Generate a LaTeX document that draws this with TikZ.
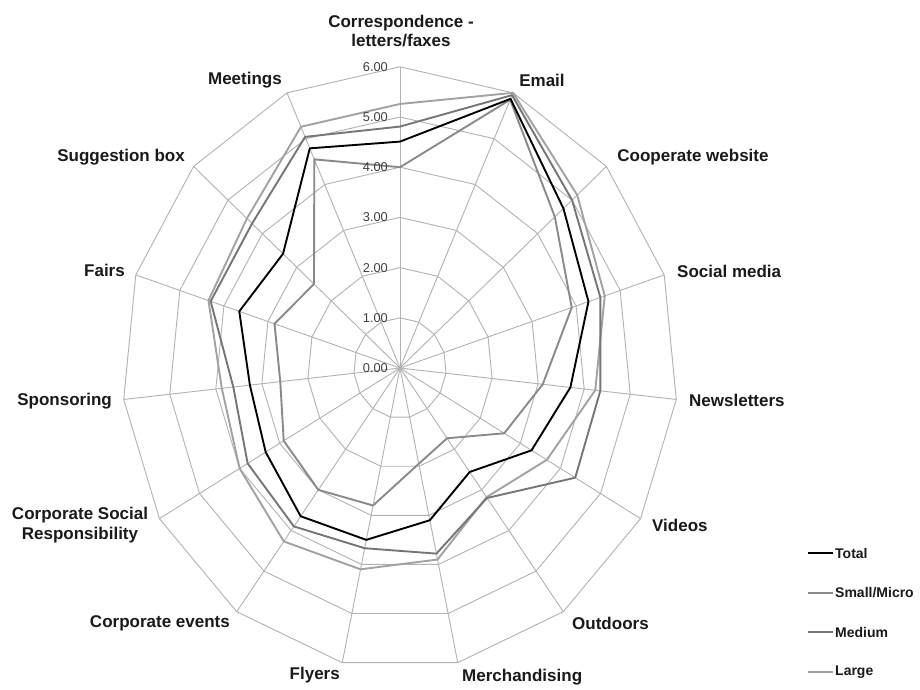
\documentclass[tikz,border=0pt]{standalone}
\usepackage{fontspec}
\setmainfont{Liberation Sans}
\definecolor{gridc}{HTML}{B2B2B2}
\definecolor{txtc}{HTML}{1A1A1A}
\definecolor{tickc}{HTML}{404040}
\definecolor{smallc}{HTML}{8A8A8A}
\definecolor{mediumc}{HTML}{767676}
\definecolor{largec}{HTML}{A2A2A2}
\newcommand\radarline[3]{%
  \foreach \v [count=\k from 0] in {#3} {\coordinate (#1-\k) at ({400+46.3*\v*sin(24*\k)},{368-50.2*\v*cos(24*\k)});}
  \draw[#2] (#1-0) \foreach \k in {1,...,14} { -- (#1-\k) } -- cycle;
}
\begin{document}
\begin{tikzpicture}[x=1pt,y=-1pt,
  gridline/.style={draw=gridc,line width=0.9pt,line join=round},
  axlabel/.style={font=\fontsize{17}{19.5}\selectfont\bfseries,text=txtc,inner sep=0pt,align=center},
  ticklabel/.style={font=\fontsize{12.8}{14}\selectfont,text=tickc,inner sep=0pt,anchor=east},
  legtext/.style={font=\fontsize{14}{16}\selectfont\bfseries,text=txtc,inner sep=0pt,anchor=west},
  totalline/.style={draw=black,line width=1.9pt,line join=round},
  smallline/.style={draw=smallc,line width=1.9pt,line join=round},
  mediumline/.style={draw=mediumc,line width=1.9pt,line join=round},
  largeline/.style={draw=largec,line width=1.9pt,line join=round}]
\useasboundingbox (0,0) rectangle (920,689);
\fill[white] (0,0) rectangle (920,689);
\coordinate (c) at (400,368);
% grid rings
\foreach \r in {1,...,6}{
  \draw[gridline] plot[samples at={0,...,15}] ({400+46.3*\r*sin(24*\x)},{368-50.2*\r*cos(24*\x)});
}
% spokes
\foreach \k in {0,...,14}{
  \coordinate (ax\k) at ({400+46.3*6*sin(24*\k)},{368-50.2*6*cos(24*\k)});
  \draw[gridline] (c) -- (ax\k);
}
% series
\radarline{sm}{smallline}{4.0,5.85,4.5,3.9,3.1,2.6,1.73,1.95,2.8,3.0,2.9,2.6,2.85,2.5,4.55}
\radarline{lg}{largeline}{5.26,6.0,5.15,4.65,4.24,3.66,3.18,3.9,4.1,4.27,4.0,3.87,4.35,4.45,5.26}
\radarline{md}{mediumline}{4.81,5.95,5.0,4.55,4.35,4.37,3.2,3.78,3.67,3.9,3.8,3.62,4.3,4.3,5.04}
\radarline{tot}{totalline}{4.51,5.87,4.75,4.28,3.7,3.28,2.56,3.1,3.5,3.65,3.35,3.26,3.65,3.4,4.79}
% tick labels
\foreach \v in {0,...,6}{
  \node[ticklabel] (tick\v) at (388,{368-50.2*\v}) {\v.00};
}
% axis labels
\node[axlabel] (l0) at (401,31) {Correspondence -\\letters/faxes};
\node[axlabel] (l1) at (542,80) {Email};
\node[axlabel] (l2) at (693,157) {Cooperate website};
\node[axlabel,anchor=west] (l3) at (677,271) {Social media};
\node[axlabel,anchor=west] (l4) at (689,400) {Newsletters};
\node[axlabel,anchor=west] (l5) at (652,525) {Videos};
\node[axlabel,anchor=west] (l6) at (572,623) {Outdoors};
\node[axlabel,anchor=west] (l7) at (462,677) {Merchandising};
\node[axlabel,anchor=east] (l8) at (340,675) {Flyers};
\node[axlabel,anchor=east] (l9) at (230,623) {Corporate events};
\node[axlabel] (l10) at (80,525) {Corporate Social\\Responsibility};
\node[axlabel,anchor=east] (l11) at (112,401) {Sponsoring};
\node[axlabel,anchor=east] (l12) at (125,270) {Fairs};
\node[axlabel,anchor=east] (l13) at (185,157) {Suggestion box};
\node[axlabel,anchor=east] (l14) at (282,80) {Meetings};
% legend
\coordinate (lga0) at (808,553); \coordinate (lgb0) at (833,553);
\coordinate (lga1) at (808,593); \coordinate (lgb1) at (833,593);
\coordinate (lga2) at (808,632); \coordinate (lgb2) at (833,632);
\coordinate (lga3) at (808,672); \coordinate (lgb3) at (833,672);
\draw[totalline] (lga0) -- (lgb0);
\draw[smallline] (lga1) -- (lgb1);
\draw[mediumline] (lga2) -- (lgb2);
\draw[largeline] (lga3) -- (lgb3);
\node[legtext] (lt0) at (835,553) {Total};
\node[legtext] (lt1) at (835,593) {Small/Micro};
\node[legtext] (lt2) at (835,632) {Medium};
\node[legtext] (lt3) at (835,672) {Large};
\end{tikzpicture}
\end{document}
